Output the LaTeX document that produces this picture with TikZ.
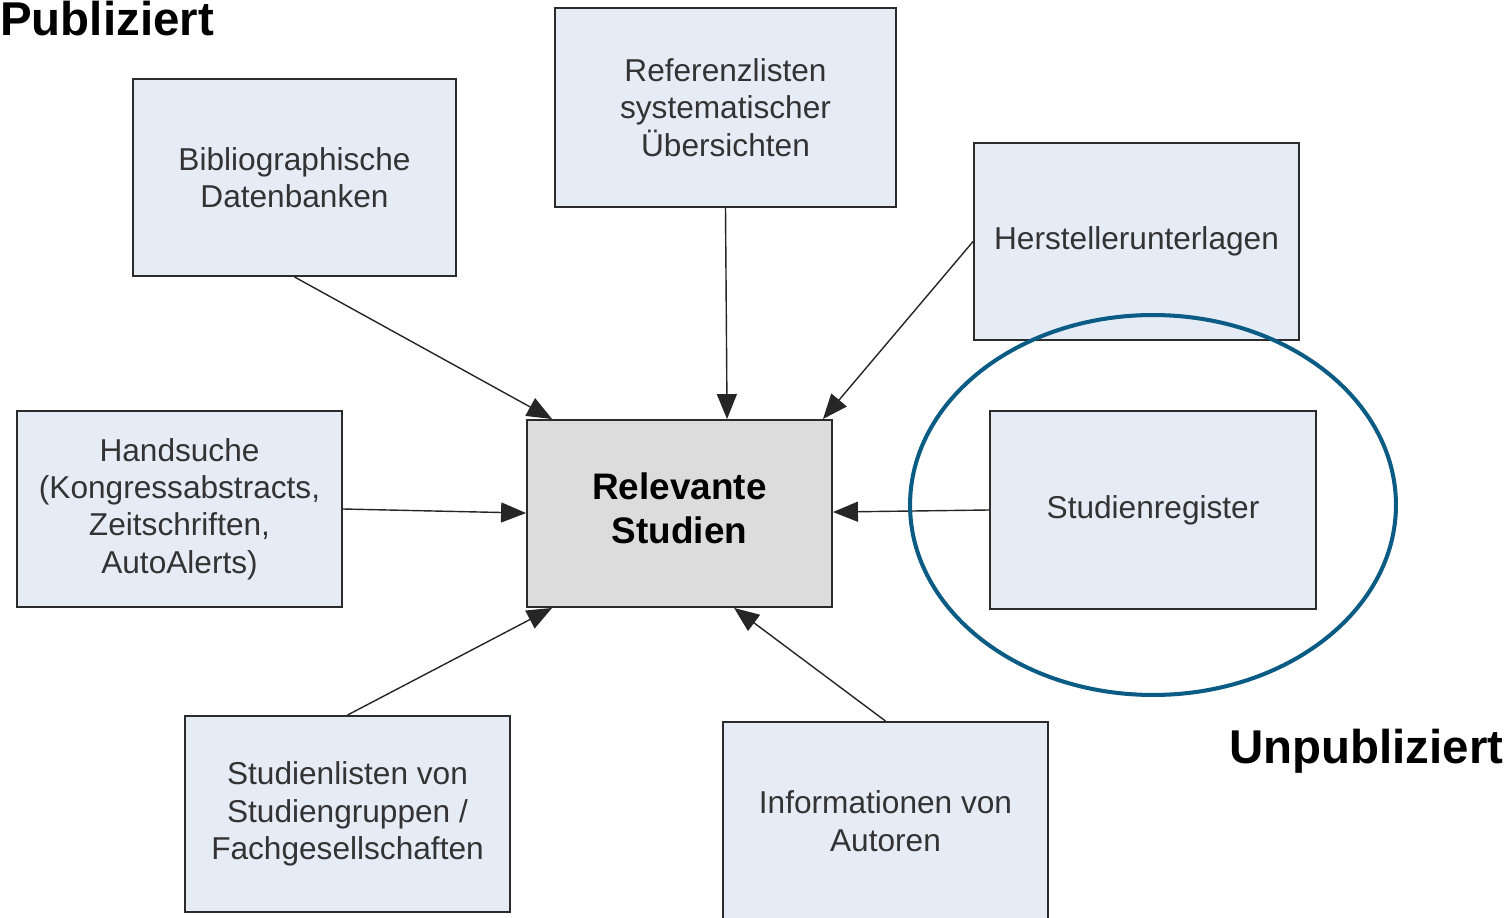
\documentclass[tikz,border=0pt]{standalone}
\usepackage{fontspec}
\setmainfont{Liberation Sans}
\usepackage{tikz}
\usetikzlibrary{shapes,arrows.meta,calc}
\usetikzlibrary{positioning}
\definecolor{myFill}{HTML}{E6ECF6}
\definecolor{myCenter}{HTML}{DCDCDC}
\definecolor{clrBorders}{HTML}{2B2B2B}
\definecolor{myFnt}{HTML}{333333}
\definecolor{myRing}{HTML}{0B5C84}
\tikzstyle{box_style0}=[draw=clrBorders, line width=1.1pt, anchor=center, align=center, text=myFnt, font=\fontsize{18}{21.3}\selectfont]
\tikzstyle{diagram0}=[box_style0, fill=myFill, minimum width=6.5cm, minimum height=3.94cm]
\tikzstyle{centre}=[box_style0, fill=myCenter, text=black, font=\fontsize{21}{25}\selectfont\bfseries, minimum width=6.1cm, minimum height=3.74cm]
\tikzstyle{myarrow}=[-{Triangle[length=5mm,width=4mm]}, line width=0.8pt, draw=black!85]
\tikzstyle{titre}=[inner sep=0pt, anchor=base west, font=\fontsize{27}{30}\selectfont\bfseries]

\begin{document}
\begin{tikzpicture}[x=0.02cm, y=-0.02cm]
		\useasboundingbox (0,0) rectangle (1507,918);

		\node[centre, text depth=6pt] (R) at (679.5,513.5) {Relevante\\Studien} ;

		\node[diagram0, minimum width=6.46cm] (A) at (294.5,177.5) {Bibliographische\\Datenbanken} ;
		\draw[myarrow] (A.south) -- ($(R.north west)+(26,0)$) ;

		\node[diagram0, minimum width=6.82cm, minimum height=3.98cm] (B) at (725.5,107.5) {Referenzlisten\\systematischer\\Übersichten} ;
		\draw[myarrow] (B.south) -- ($(R.north west)+(201,0)$) ;

		\node[diagram0] (C) at (1136.5,241.5) {Herstellerunterlagen} ;
		\draw[myarrow] (C.west) -- ($(R.north east)+(-10,0)$) ;

		\node[diagram0, minimum height=3.92cm] (D) at (179.5,509) {Handsuche\\(Kongressabstracts,\\Zeitschriften,\\AutoAlerts)} ;
		\draw[myarrow] (D.east) -- ($(R.north west)+(0,94)$) ;

		\node[diagram0, minimum width=6.52cm, minimum height=3.96cm] (E) at (1153,510) {Studienregister} ;
		\draw[myarrow] (E.west) -- ($(R.north east)+(0,93)$) ;

		\node[diagram0, minimum height=3.92cm] (F) at (347.5,814) {Studienlisten von\\Studiengruppen /\\Fachgesellschaften} ;
		\draw[myarrow] (F.north) -- ($(R.south west)+(26,0)$) ;

		\node[diagram0, minimum height=3.96cm] (G) at (885.5,821) {Informationen von\\Autoren} ;
		\draw[myarrow] (G.north) -- ($(R.south west)+(208,0)$) ;

		% unpublished sources
		\draw[myRing, line width=2.3pt] (1153,505) ellipse [x radius=4.86cm, y radius=3.8cm] ;

		\node[titre] (P) at (0,36) {Publiziert} ;
		\node[titre] (U) at (1229,763) {Unpubliziert} ;

	\end{tikzpicture}
\end{document}
